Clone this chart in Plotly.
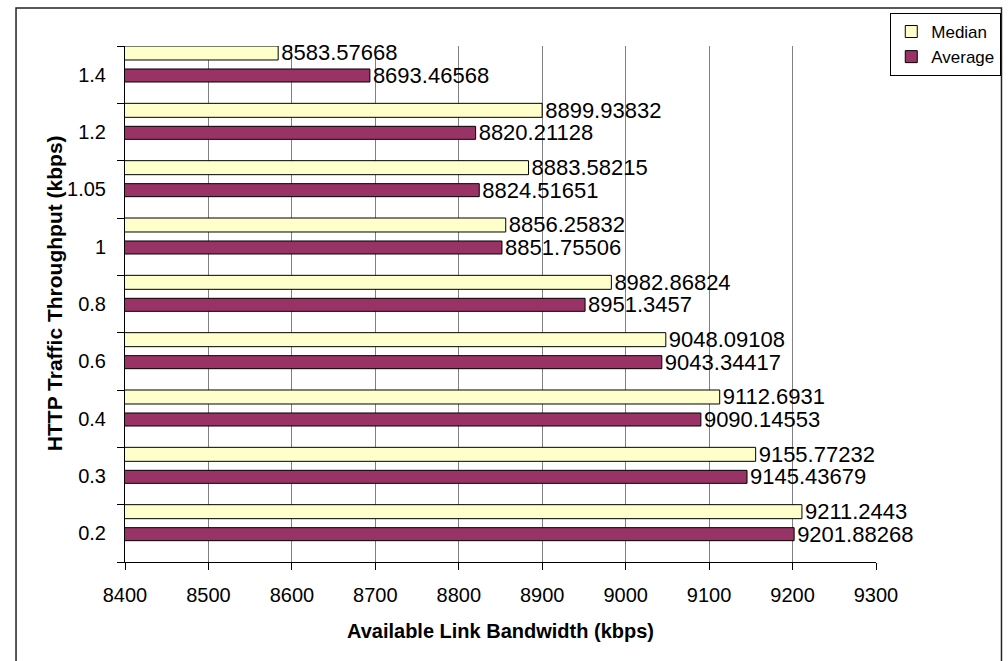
import plotly.graph_objects as go

# HTTP traffic throughput levels (kbps), bottom to top
throughput = ["0.2", "0.3", "0.4", "0.6", "0.8", "1", "1.05", "1.2", "1.4"]

# Available link bandwidth (kbps)
median_bw = [9211.2443, 9155.77232, 9112.6931, 9048.09108, 8982.86824,
             8856.25832, 8883.58215, 8899.93832, 8583.57668]
average_bw = [9201.88268, 9145.43679, 9090.14553, 9043.34417, 8951.3457,
              8851.75506, 8824.51651, 8820.21128, 8693.46568]

x_ticks = [8400, 8500, 8600, 8700, 8800, 8900, 9000, 9100, 9200, 9300]

FONT = "Liberation Sans, Arial, sans-serif"
pos = list(range(len(throughput)))

fig = go.Figure()
fig.add_trace(go.Bar(
    name="Median", y=pos, x=median_bw, orientation="h",
    offset=0.256, width=0.244,
    marker=dict(color="#FFFFCC", line=dict(color="black", width=1)),
    text=[str(v) for v in median_bw], textposition="outside",
    constraintext="none", cliponaxis=False,
    textfont=dict(family=FONT, size=22, color="black"),
    legendgroup="m",
))
fig.add_trace(go.Bar(
    name="Average", y=pos, x=average_bw, orientation="h",
    offset=-0.128, width=0.227,
    marker=dict(color="#993366", line=dict(color="black", width=1)),
    text=[str(v) for v in average_bw], textposition="outside",
    constraintext="none", cliponaxis=False,
    textfont=dict(family=FONT, size=22, color="black"),
    legendgroup="a",
))

fig.update_layout(
    width=1008, height=661,
    margin=dict(l=125, r=132, t=46, b=99, autoexpand=False),
    paper_bgcolor="white", plot_bgcolor="white",
    barmode="overlay",
    font=dict(family=FONT, color="black"),
    showlegend=True,
    legend=dict(
        x=1.019, xanchor="left", y=0.9419, yanchor="bottom",
        bordercolor="black", borderwidth=1, bgcolor="white",
        font=dict(family=FONT, size=17, color="black"),
        itemwidth=30, tracegroupgap=12, traceorder="normal",
    ),
    xaxis=dict(
        range=[8400, 9300], tickvals=x_ticks,
        ticks="outside", ticklen=7, tickcolor="black",
        showline=True, linecolor="black", linewidth=1,
        showgrid=True, gridcolor="#808080", gridwidth=1,
        zeroline=False,
        tickfont=dict(family=FONT, size=20, color="black"),
        ticklabelstandoff=8,
        title=dict(text="<b>Available Link Bandwidth (kbps)</b>",
                   font=dict(family=FONT, size=20, color="black"),
                   standoff=18),
    ),
    yaxis=dict(
        range=[-0.5, 8.5], tickvals=pos, ticktext=throughput,
        ticks="", showline=True, linecolor="black", linewidth=1,
        showgrid=False, zeroline=False,
        tickfont=dict(family=FONT, size=20, color="black"),
        ticklabelstandoff=14,
        minor=dict(ticks="outside", ticklen=7, tickcolor="black",
                   tickmode="linear", tick0=-0.5, dtick=1, showgrid=False),
    ),
    annotations=[dict(
        text="<b>HTTP Traffic Throughput (kbps)</b>",
        xref="paper", yref="paper", x=-0.0945, y=0.521,
        xanchor="center", yanchor="middle", textangle=-90,
        showarrow=False, font=dict(family=FONT, size=21, color="black"),
    )],
    shapes=[dict(
        type="rect", xref="paper", yref="paper",
        x0=-0.1451, x1=1.1671, y0=-0.3, y1=1.0736,
        line=dict(color="#222222", width=1.5), fillcolor="rgba(0,0,0,0)",
        layer="below",
    )],
)

fig.write_html("out.html")
